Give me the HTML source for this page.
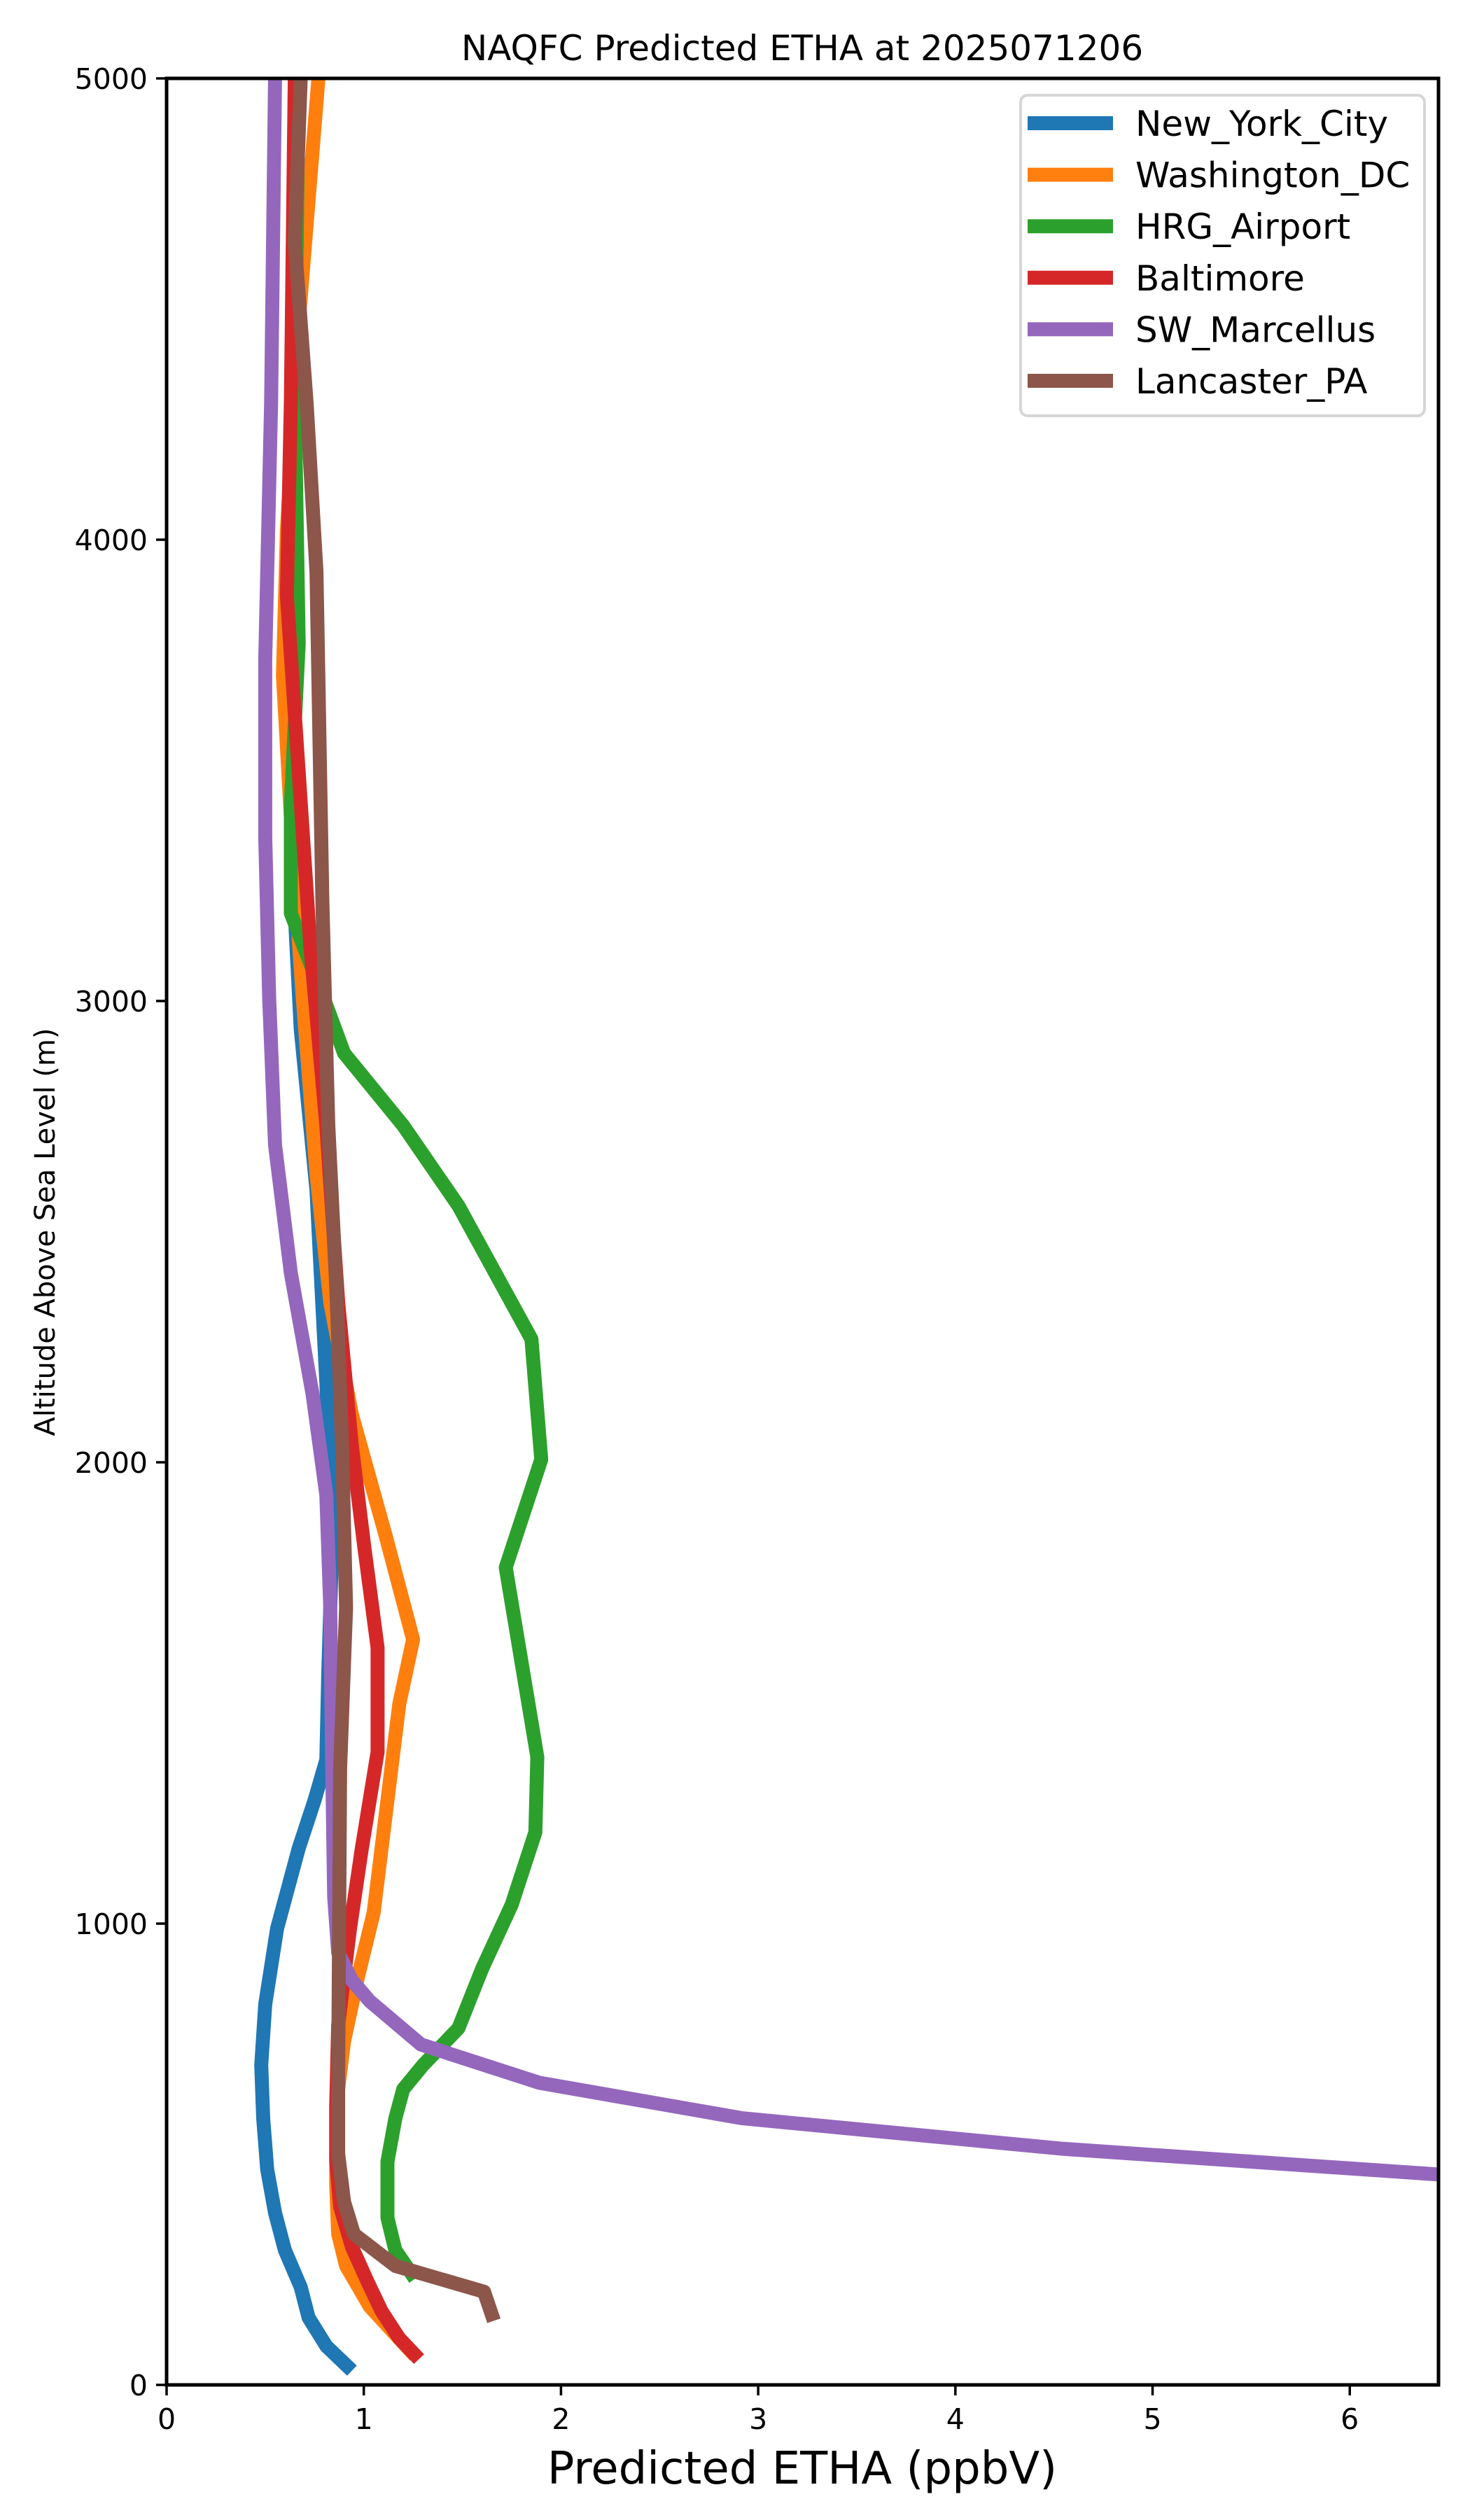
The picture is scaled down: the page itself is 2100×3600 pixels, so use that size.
<!DOCTYPE html>
<html><head><meta charset="utf-8"><style>
html,body{margin:0;padding:0;background:#fff;}
svg{display:block;font-family:"DejaVu Sans","Liberation Sans",sans-serif;}
</style></head><body>
<svg id="chart" width="2100" height="3600" viewBox="0 0 2100 3600" xmlns="http://www.w3.org/2000/svg">
<rect width="2100" height="3600" fill="#fff"/>
<defs><clipPath id="plotclip"><rect x="238" y="112" width="1817" height="3295"/></clipPath></defs>
<text x="1146" y="86" font-size="50" text-anchor="middle">NAQFC Predicted ETHA at 2025071206</text>
<g id="series" clip-path="url(#plotclip)"></g>
<rect x="238" y="112" width="1817" height="3295" fill="none" stroke="#000" stroke-width="5"/>
<g id="axes"></g>
<text x="1146" y="3548" font-size="64" text-anchor="middle">Predicted ETHA (ppbV)</text>
<text x="0" y="0" font-size="40" text-anchor="middle" transform="translate(78,1760) rotate(-90)">Altitude Above Sea Level (m)</text>
<g id="legend"></g>
</svg>
<script>
const seriesNames = ["New_York_City","Washington_DC","HRG_Airport","Baltimore","SW_Marcellus","Lancaster_PA"];
const seriesColors = ["#1f77b4","#ff7f0e","#2ca02c","#d62728","#9467bd","#8c564b"];
const xTicks = [0,1,2,3,4,5,6];
const yTicks = [0,1000,2000,3000,4000,5000];
const nycX = [0.94,0.81,0.72,0.68,0.60,0.55,0.51,0.49,0.48,0.50,0.56,0.67,0.75,0.81,0.82,0.84,0.81,0.76,0.68,0.63,0.64,0.65];
const nycY = [31,84,146,212,292,373,467,578,693,825,989,1163,1267,1355,1546,1825,2173,2590,2939,3357,4123,5000];
const dcX = [1.26,1.03,0.91,0.87,0.86,0.86,0.90,0.97,1.05,1.12,1.18,1.25,1.11,0.94,0.83,0.76,0.69,0.64,0.59,0.61,0.67,0.77];
const dcY = [63,170,258,327,432,606,745,884,1024,1267,1476,1616,1842,2103,2347,2625,3008,3322,3705,4018,4471,5000];
const hrgX = [1.26,1.16,1.12,1.12,1.16,1.20,1.30,1.48,1.60,1.75,1.87,1.88,1.72,1.90,1.85,1.48,1.20,0.90,0.81,0.63,0.63,0.67,0.65,0.67];
const hrgY = [230,292,362,484,578,641,693,773,902,1041,1198,1361,1772,2006,2267,2556,2730,2887,2991,3190,3426,3774,4297,5000];
const balX = [1.28,1.18,1.09,1.02,0.94,0.88,0.86,0.86,0.87,0.93,0.99,1.07,1.07,1.00,0.94,0.87,0.81,0.73,0.67,0.61,0.63,0.65];
const balY = [56,101,160,223,299,386,484,606,780,989,1163,1372,1598,1825,2034,2347,2730,3113,3496,3879,4297,5000];
const swmX = [7.0,4.54,2.92,1.89,1.29,1.03,0.94,0.87,0.85,0.84,0.83,0.81,0.74,0.63,0.55,0.52,0.50,0.50,0.53,0.55];
const swmY = [440,512,578,655,738,832,877,937,1058,1337,1685,1929,2148,2410,2688,3008,3357,3740,4297,5000];
const lanX = [1.66,1.61,1.16,0.95,0.90,0.87,0.87,0.88,0.91,0.89,0.86,0.82,0.79,0.76,0.71,0.65,0.68];
const lanY = [139,202,258,327,397,501,676,1337,1685,2034,2382,2730,3218,3931,4297,4645,5000];

const X0=238, X1=2055, Y0=3407, Y1=112, XMAX=6.45, YMAX=5000;
function sx(v){return X0+(v/XMAX)*(X1-X0);}
function sy(v){return Y0-(v/YMAX)*(Y0-Y1);}
const NS="http://www.w3.org/2000/svg";
const allX=[nycX,dcX,hrgX,balX,swmX,lanX], allY=[nycY,dcY,hrgY,balY,swmY,lanY];
const sg=document.getElementById('series');
for(let i=0;i<seriesNames.length;i++){
  const p=document.createElementNS(NS,'polyline');
  p.setAttribute('points',allX[i].map((x,j)=>sx(x).toFixed(1)+','+sy(allY[i][j]).toFixed(1)).join(' '));
  p.setAttribute('fill','none');p.setAttribute('stroke',seriesColors[i]);
  p.setAttribute('stroke-width','20');p.setAttribute('stroke-linejoin','round');
  
  
  sg.appendChild(p);
}
const ag=document.getElementById('axes');
xTicks.forEach(t=>{
  const l=document.createElementNS(NS,'line');
  l.setAttribute('x1',sx(t));l.setAttribute('x2',sx(t));l.setAttribute('y1',Y0);l.setAttribute('y2',Y0+15);
  l.setAttribute('stroke','#000');l.setAttribute('stroke-width','3.5');
  
  
  ag.appendChild(l);
  const tx=document.createElementNS(NS,'text');
  tx.setAttribute('x',sx(t));tx.setAttribute('y',Y0+63);tx.setAttribute('font-size','41');tx.setAttribute('text-anchor','middle');
  tx.textContent=t;
  
  
  ag.appendChild(tx);
});
yTicks.forEach(t=>{
  const l=document.createElementNS(NS,'line');
  l.setAttribute('x1',X0-15);l.setAttribute('x2',X0);l.setAttribute('y1',sy(t));l.setAttribute('y2',sy(t));
  l.setAttribute('stroke','#000');l.setAttribute('stroke-width','3.5');
  
  
  ag.appendChild(l);
  const tx=document.createElementNS(NS,'text');
  tx.setAttribute('x',X0-27);tx.setAttribute('y',sy(t)+15);tx.setAttribute('font-size','41');tx.setAttribute('text-anchor','end');
  tx.textContent=t;
  
  
  ag.appendChild(tx);
});
const lg=document.getElementById('legend');
const box=document.createElementNS(NS,'rect');
box.setAttribute('x',1458);box.setAttribute('y',136);box.setAttribute('width',577);box.setAttribute('height',458);
box.setAttribute('rx',10);box.setAttribute('fill','#fff');box.setAttribute('fill-opacity','0.8');box.setAttribute('stroke','#d6d6d6');box.setAttribute('stroke-width','4');


lg.appendChild(box);
seriesNames.forEach((n,i)=>{
  const cy=176+i*73.6;
  const l=document.createElementNS(NS,'line');
  l.setAttribute('x1',1468);l.setAttribute('x2',1590);l.setAttribute('y1',cy);l.setAttribute('y2',cy);
  l.setAttribute('stroke',seriesColors[i]);l.setAttribute('stroke-width','20');
  
  
  lg.appendChild(l);
  const tx=document.createElementNS(NS,'text');
  tx.setAttribute('x',1622);tx.setAttribute('y',cy+18);tx.setAttribute('font-size','50');
  tx.textContent=n;
  
  
  lg.appendChild(tx);
});
</script>
</body></html>
